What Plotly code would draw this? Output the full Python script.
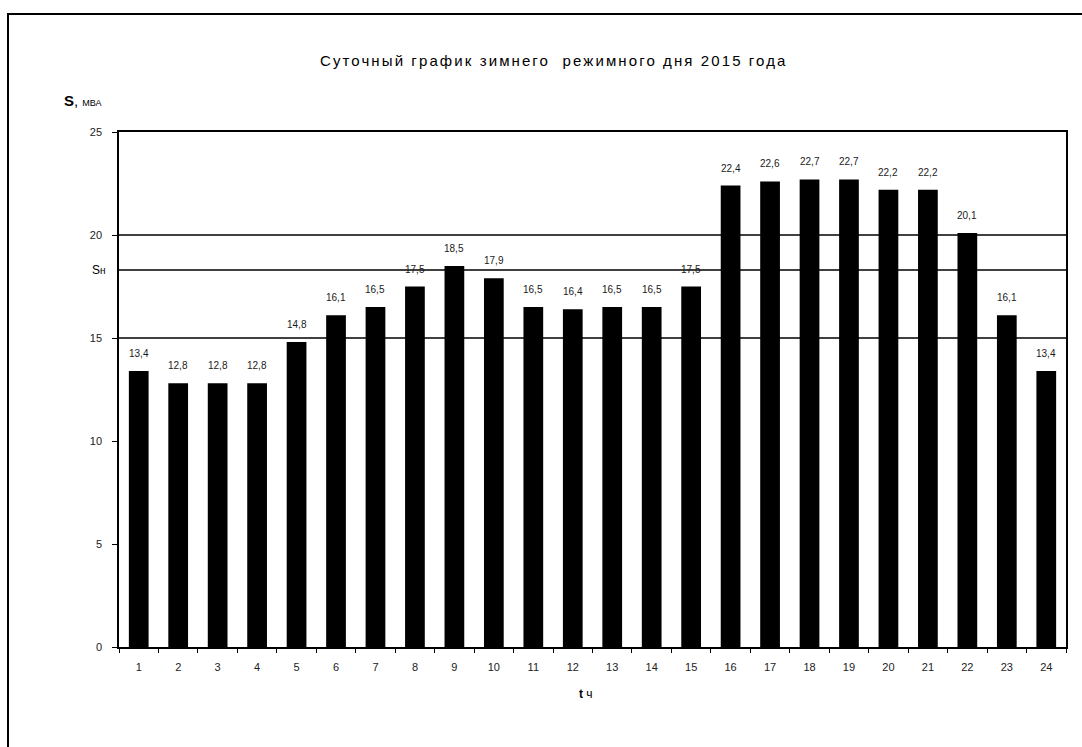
import plotly.graph_objects as go

hours = [str(h) for h in range(1, 25)]
load_mva = [13.4, 12.8, 12.8, 12.8, 14.8, 16.1, 16.5, 17.5, 18.5, 17.9, 16.5, 16.4,
            16.5, 16.5, 17.5, 22.4, 22.6, 22.7, 22.7, 22.2, 22.2, 20.1, 16.1, 13.4]
y_ticks = [0, 5, 10, 15, 20, 25]
grid_levels = [15, 20]
s_nom = 18.3

title_text = "Суточный график зимнего  режимного дня 2015 года"
FONT = "Liberation Sans, Arial, sans-serif"

fig = go.Figure()
fig.add_trace(go.Bar(
    x=hours, y=load_mva,
    marker=dict(color="black", line=dict(width=0)),
    hoverinfo="x+y",
))

annotations = []
for i, v in enumerate(load_mva):
    annotations.append(dict(
        x=i, y=v, xref="x", yref="y", text=f"{v:.1f}".replace(".", ","),
        showarrow=False, yanchor="bottom", yshift=10,
        font=dict(family=FONT, size=10, color="#1a1a1a"),
    ))

annotations.append(dict(
    x=-0.012, y=s_nom, xref="paper", yref="y", xanchor="right", yanchor="middle",
    text="S<span style='font-size:10px'>н</span>", showarrow=False,
    font=dict(family=FONT, size=12, color="black"),
))
annotations.append(dict(
    x=(62 - 119) / 947, y=(647 - 100) / 515, xref="paper", yref="paper",
    xanchor="left", yanchor="middle",
    text="<b>S</b>, <span style='font-size:9px'>МВА</span>", showarrow=False,
    font=dict(family=FONT, size=15, color="black"),
))
annotations.append(dict(
    x=(586 - 119) / 947, y=(647 - 694) / 515, xref="paper", yref="paper",
    xanchor="center", yanchor="middle",
    text="<b>t</b> ч", showarrow=False,
    font=dict(family=FONT, size=12, color="black"),
))
annotations.append(dict(
    x=(554 - 119) / 947, y=(647 - 61) / 515, xref="paper", yref="paper",
    xanchor="center", yanchor="middle",
    text=f"<span style='letter-spacing:2.1px'>{title_text}</span>", showarrow=False,
    font=dict(family=FONT, size=15, color="black"),
))

shapes = []
for g in grid_levels + [s_nom]:
    shapes.append(dict(type="line", xref="paper", yref="y", x0=0, x1=1, y0=g, y1=g,
                       line=dict(color="black", width=1.3), layer="below"))
# outer chart border
shapes.append(dict(type="rect", xref="paper", yref="paper",
                   x0=(8 - 119) / 947, x1=(1095 - 119) / 947,
                   y0=(647 - 760) / 515, y1=(647 - 14) / 515,
                   line=dict(color="black", width=2), fillcolor="rgba(0,0,0,0)"))

fig.update_layout(
    width=1082, height=747,
    margin=dict(l=119, r=16, t=132, b=100),
    paper_bgcolor="white", plot_bgcolor="white",
    bargap=0.5, showlegend=False,
    annotations=annotations, shapes=shapes,
    font=dict(family=FONT, size=11, color="black"),
)
fig.update_xaxes(
    type="category", showgrid=False, showline=True, mirror=True,
    linecolor="black", linewidth=1.5,
    ticks="outside", tickson="boundaries", ticklen=4, tickwidth=1.3, tickcolor="black",
    ticklabelstandoff=9,
    tickfont=dict(family=FONT, size=11, color="#222"),
)
fig.update_yaxes(
    range=[0, 25], tickvals=y_ticks, showgrid=False, zeroline=False,
    showline=True, mirror=True, linecolor="black", linewidth=1.5,
    ticks="outside", ticklen=5, tickwidth=1.3, tickcolor="black",
    ticklabelstandoff=8,
    tickfont=dict(family=FONT, size=11, color="#222"),
)

fig.write_html("out.html")
